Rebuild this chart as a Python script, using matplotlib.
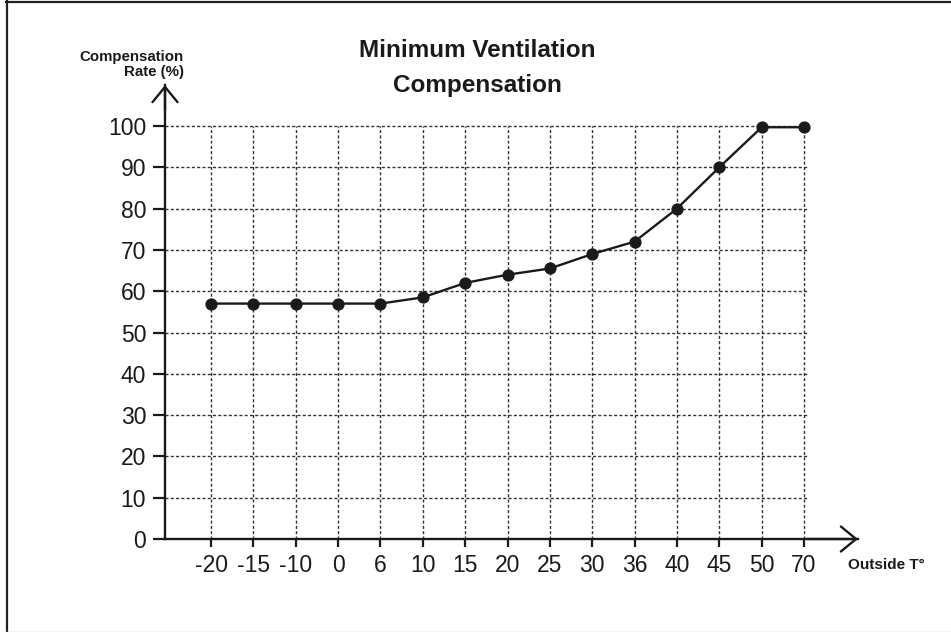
import matplotlib
matplotlib.use("Agg")
import matplotlib.pyplot as plt
from matplotlib.lines import Line2D
import numpy as np

plt.rcParams['font.family'] = ['Liberation Sans', 'DejaVu Sans']

# ---- data ----
temps = ['-20', '-15', '-10', '0', '6', '10', '15', '20', '25', '30', '36', '40', '45', '50', '70']
rates = [57, 57, 57, 57, 57, 58.5, 62, 64, 65.5, 69, 72, 80, 90, 99.7, 99.7]
y_ticks = [0, 10, 20, 30, 40, 50, 60, 70, 80, 90, 100]
title_lines = ['Minimum Ventilation', 'Compensation']
ylabel_lines = ['Compensation', 'Rate (%)']
xlabel = 'Outside T°'

INK = '#1a1a1a'
W, H = 951, 632
fig = plt.figure(figsize=(W / 100, H / 100), dpi=100)

# axes placement in pixels
left_px, right_px, bottom_px, top_px = 165, 858, 539, 85
ax = fig.add_axes([left_px / W, (H - bottom_px) / H,
                   (right_px - left_px) / W, (bottom_px - top_px) / H])

x = np.arange(len(temps))
step = 42.36
ax.set_xlim(-(211 - left_px) / step, (right_px - 211) / step)
ppu = (539 - 126) / 100.0
ax.set_ylim(0, (bottom_px - top_px) / ppu)

# grid
grid_style = dict(color='#333333', lw=1.0, linestyle=(0, (2.2, 1.6)), zorder=1)
ax.hlines(y_ticks[1:], ax.get_xlim()[0], x[-1] + 0.1, **grid_style)
ax.vlines(x, 0, y_ticks[-1], **grid_style)

# data line
ax.plot(x, rates, color=INK, lw=1.7, marker='o', markersize=7.8, zorder=3,
        clip_on=False)

# spines & ticks
for s in ['top', 'right']:
    ax.spines[s].set_visible(False)
for s in ['left', 'bottom']:
    ax.spines[s].set_color(INK)
    ax.spines[s].set_linewidth(1.7)

ax.set_yticks(y_ticks)
ax.set_yticklabels([str(v) for v in y_ticks])
ax.set_xticks(x)
ax.set_xticklabels(temps)
ax.tick_params(axis='y', direction='out', length=8.5, width=1.6, color=INK,
               labelsize=16.5, pad=5, labelcolor=INK)
ax.tick_params(axis='x', direction='out', length=6, width=1.6, color=INK,
               labelsize=16.5, pad=5, labelcolor=INK)
ax.set_facecolor('white')

# arrowheads
xl = ax.get_xlim()
yl = ax.get_ylim()
ap = dict(arrowstyle='->,head_length=0.55,head_width=0.45', lw=1.7, color=INK,
          mutation_scale=20, shrinkA=0, shrinkB=0)
ax.annotate('', xy=(xl[0], yl[1]), xytext=(xl[0], yl[1] - 6), arrowprops=ap,
            annotation_clip=False)
ax.annotate('', xy=(xl[1], 0), xytext=(xl[1] - 1.2, 0), arrowprops=ap,
            annotation_clip=False)

# texts
fig.text(477 / W, 1 - 57 / H, title_lines[0], ha='center', va='baseline',
         fontsize=17.5, fontweight='bold', color=INK)
fig.text(477 / W, 1 - 92 / H, title_lines[1], ha='center', va='baseline',
         fontsize=17.5, fontweight='bold', color=INK)
fig.text(184 / W, 1 - 61 / H, ylabel_lines[0], ha='right', va='baseline',
         fontsize=10.8, fontweight='bold', color=INK)
fig.text(184 / W, 1 - 76 / H, ylabel_lines[1], ha='right', va='baseline',
         fontsize=10.8, fontweight='bold', color=INK)
fig.text(848 / W, 1 - 569 / H, xlabel, ha='left', va='baseline',
         fontsize=11, fontweight='bold', color=INK)

# outer border (top & left dark, bottom light)
fig.add_artist(Line2D([6 / W, 1], [1 - 2 / H, 1 - 2 / H], color='#222222', lw=1.6,
                      transform=fig.transFigure))
fig.add_artist(Line2D([7 / W, 7 / W], [0, 1 - 1 / H], color='#222222', lw=1.6,
                      transform=fig.transFigure))
fig.add_artist(Line2D([7 / W, 1], [0.5 / H, 0.5 / H], color='#cccccc', lw=1.0,
                      transform=fig.transFigure))

fig.savefig('out.png', dpi=100, facecolor='white')
